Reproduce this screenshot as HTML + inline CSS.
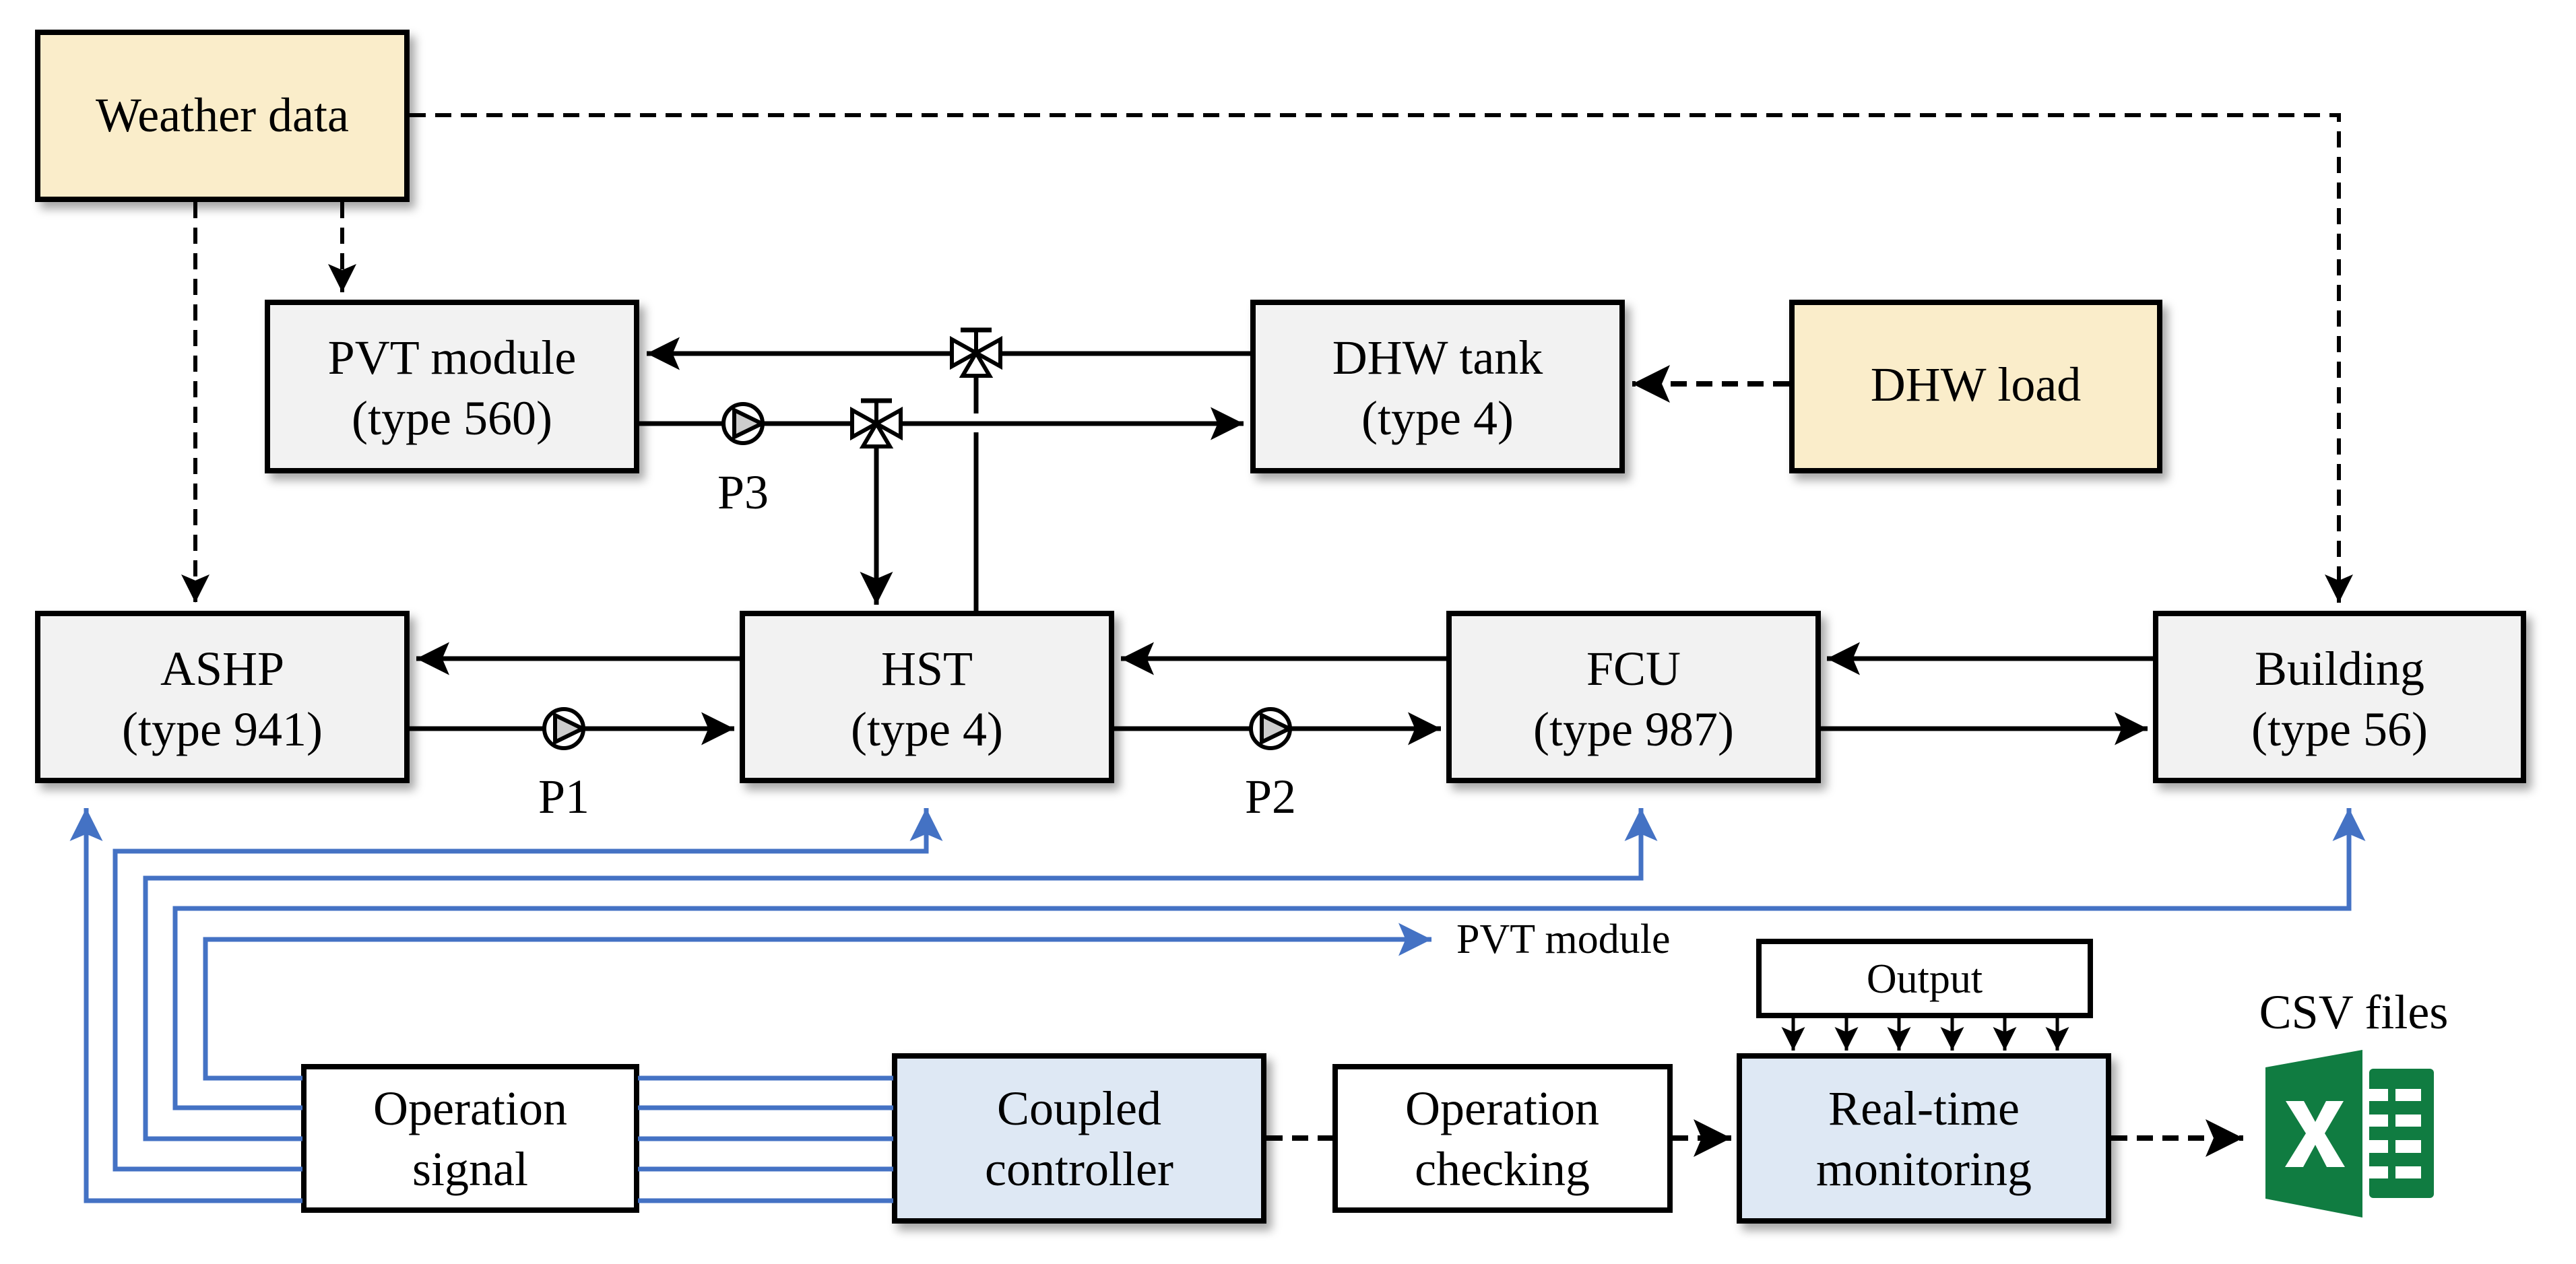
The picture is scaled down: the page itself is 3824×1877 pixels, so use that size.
<!DOCTYPE html>
<html><head><meta charset="utf-8"><style>
html,body{margin:0;padding:0;background:#fff;}
svg{display:block;}
svg text{font-family:"Liberation Serif","Times New Roman",Times,serif !important;fill:#000;}
</style></head><body>
<svg width="3824" height="1877" viewBox="0 0 3824 1877" xmlns="http://www.w3.org/2000/svg" font-family="Liberation Serif, Times New Roman, serif">
<defs>
<filter id="sh" x="-10%" y="-10%" width="130%" height="130%">
<feDropShadow dx="8" dy="10" stdDeviation="7" flood-color="#000" flood-opacity="0.35"/>
</filter>
<marker id="ab" markerWidth="8" markerHeight="8" refX="7" refY="4" orient="auto" markerUnits="strokeWidth"><path d="M0,0.5 L7,4 L0,7.5 L1.5,4 Z" fill="#000"/></marker>
<marker id="abl" markerWidth="8" markerHeight="8" refX="7" refY="4" orient="auto" markerUnits="strokeWidth"><path d="M0,0.5 L7,4 L0,7.5 L1.5,4 Z" fill="#4472C4"/></marker>
<g id="valve">
<path d="M-36,-20 L-36,20 L0,0 Z M36,-20 L36,20 L0,0 Z M0,0 L-20,34 L20,34 Z" fill="#fff" stroke="#000" stroke-width="6" stroke-linejoin="miter"/>
<line x1="0" y1="0" x2="0" y2="-34" stroke="#000" stroke-width="6"/>
<line x1="-23" y1="-34" x2="23" y2="-34" stroke="#000" stroke-width="7"/>
</g>
<g id="pump">
<circle cx="0" cy="0" r="29" fill="#fff" stroke="#000" stroke-width="6"/>
<path d="M-13,-20 L-13,20 L28,0 Z" fill="#ccc" stroke="#000" stroke-width="6"/>
</g>
</defs>

<g filter="url(#sh)" stroke="#000" stroke-width="8">
<rect x="56" y="48" width="548" height="248" fill="#FAEDCA"/>
<rect x="397" y="449" width="548" height="250" fill="#F2F2F2"/>
<rect x="1860" y="449" width="548" height="250" fill="#F2F2F2"/>
<rect x="2660" y="449" width="546" height="250" fill="#FAEDCA"/>
<rect x="56" y="911" width="548" height="248" fill="#F2F2F2"/>
<rect x="1102" y="911" width="548" height="248" fill="#F2F2F2"/>
<rect x="2151" y="911" width="548" height="248" fill="#F2F2F2"/>
<rect x="3200" y="911" width="546" height="248" fill="#F2F2F2"/>
<rect x="1328" y="1568" width="548" height="245" fill="#DEE8F4"/>
<rect x="2582" y="1568" width="548" height="245" fill="#DEE8F4"/>
</g>
<g stroke="#000" stroke-width="8" fill="#fff">
<rect x="451" y="1584" width="494" height="213"/>
<rect x="1982" y="1584" width="497" height="213"/>
<rect x="2611" y="1398" width="492" height="110"/>
</g>

<g stroke="#000" fill="none" stroke-dasharray="24,14">
<path d="M608,171 L3472,171 L3472,895" marker-end="url(#ab)" stroke-width="6"/>
<path d="M290,300 L290,895" marker-end="url(#ab)" stroke-width="6"/>
<path d="M508,300 L508,434" marker-end="url(#ab)" stroke-width="6"/>
<path d="M2656,570 L2423,570" marker-end="url(#ab)" stroke-width="8"/>
<path d="M1880,1690 L1980,1690" stroke-width="8"/>
<path d="M2482,1690 L2570,1690" marker-end="url(#ab)" stroke-width="8"/>
<path d="M3134,1690 L3330,1690" marker-end="url(#ab)" stroke-width="8"/>
</g>

<g stroke="#000" stroke-width="7" fill="none">
<path d="M1858,525 L960,525" marker-end="url(#ab)"/>
<path d="M947,629 L1846,629" marker-end="url(#ab)"/>
<path d="M1449,557 L1449,614"/>
<path d="M1449,642 L1449,907"/>
<path d="M1301,663 L1301,898" marker-end="url(#ab)"/>
<path d="M1100,978 L618,978" marker-end="url(#ab)"/>
<path d="M607,1082 L1090,1082" marker-end="url(#ab)"/>
<path d="M2149,978 L1664,978" marker-end="url(#ab)"/>
<path d="M1653,1082 L2139,1082" marker-end="url(#ab)"/>
<path d="M3198,978 L2712,978" marker-end="url(#ab)"/>
<path d="M2702,1082 L3188,1082" marker-end="url(#ab)"/>
<g stroke-width="5">
<path d="M2662,1511 L2662,1560" marker-end="url(#ab)"/>
<path d="M2741,1511 L2741,1560" marker-end="url(#ab)"/>
<path d="M2819,1511 L2819,1560" marker-end="url(#ab)"/>
<path d="M2898,1511 L2898,1560" marker-end="url(#ab)"/>
<path d="M2976,1511 L2976,1560" marker-end="url(#ab)"/>
<path d="M3054,1511 L3054,1560" marker-end="url(#ab)"/>
</g>
</g>
<use href="#valve" x="1449" y="524"/>
<use href="#valve" x="1301" y="629"/>
<use href="#pump" x="1103" y="629"/>
<use href="#pump" x="837" y="1082"/>
<use href="#pump" x="1886" y="1082"/>

<g stroke="#4472C4" stroke-width="7" fill="none">
<path d="M449,1783 L128,1783 L128,1200" marker-end="url(#abl)"/>
<path d="M449,1736 L171,1736 L171,1264 L1375,1264 L1375,1200" marker-end="url(#abl)"/>
<path d="M449,1691 L216,1691 L216,1304 L2436,1304 L2436,1200" marker-end="url(#abl)"/>
<path d="M449,1645 L260,1645 L260,1349 L3487,1349 L3487,1200" marker-end="url(#abl)"/>
<path d="M449,1601 L305,1601 L305,1395 L2125,1395" marker-end="url(#abl)"/>
<path d="M947,1601 L1326,1601 M947,1645 L1326,1645 M947,1691 L1326,1691 M947,1736 L1326,1736 M947,1783 L1326,1783"/>
</g>

<g font-size="72" text-anchor="middle" font-family="Liberation Serif, serif">
<text x="330" y="195">Weather data</text>
<text x="671" y="555">PVT module</text>
<text x="671" y="645">(type 560)</text>
<text x="2134" y="555">DHW tank</text>
<text x="2134" y="645">(type 4)</text>
<text x="2933" y="595">DHW load</text>
<text x="330" y="1017">ASHP</text>
<text x="330" y="1107">(type 941)</text>
<text x="1376" y="1017">HST</text>
<text x="1376" y="1107">(type 4)</text>
<text x="2425" y="1017">FCU</text>
<text x="2425" y="1107">(type 987)</text>
<text x="3473" y="1017">Building</text>
<text x="3473" y="1107">(type 56)</text>
<text x="1103" y="755">P3</text>
<text x="837" y="1207">P1</text>
<text x="1886" y="1207">P2</text>
<text x="698" y="1670">Operation</text>
<text x="698" y="1760">signal</text>
<text x="1602" y="1670">Coupled</text>
<text x="1602" y="1760">controller</text>
<text x="2230" y="1670">Operation</text>
<text x="2230" y="1760">checking</text>
<text x="2856" y="1670">Real-time</text>
<text x="2856" y="1760">monitoring</text>
<text x="2857" y="1474" font-size="62">Output</text>
<text x="3494" y="1527">CSV files</text>
</g>
<text x="2162" y="1415" font-size="62" font-family="Liberation Serif, serif">PVT module</text>

<g>
<rect x="3517" y="1587" width="96" height="192" rx="6" fill="#107C41"/>
<g fill="#fff">
<rect x="3517" y="1617" width="28" height="18"/><rect x="3556" y="1617" width="38" height="18"/>
<rect x="3517" y="1655" width="28" height="18"/><rect x="3556" y="1655" width="38" height="18"/>
<rect x="3517" y="1693" width="28" height="19"/><rect x="3556" y="1693" width="38" height="19"/>
<rect x="3517" y="1732" width="28" height="18"/><rect x="3556" y="1732" width="38" height="18"/>
</g>
<path d="M3363,1585 L3507,1559 L3507,1808 L3363,1780 Z" fill="#107C41"/>
<path d="M3393,1635 L3420,1635 L3437,1666 L3453,1635 L3479,1635 L3451,1683 L3481,1733 L3454,1733 L3437,1700 L3419,1733 L3392,1733 L3423,1683 Z" fill="#fff"/>
</g>
</svg>
</body></html>
